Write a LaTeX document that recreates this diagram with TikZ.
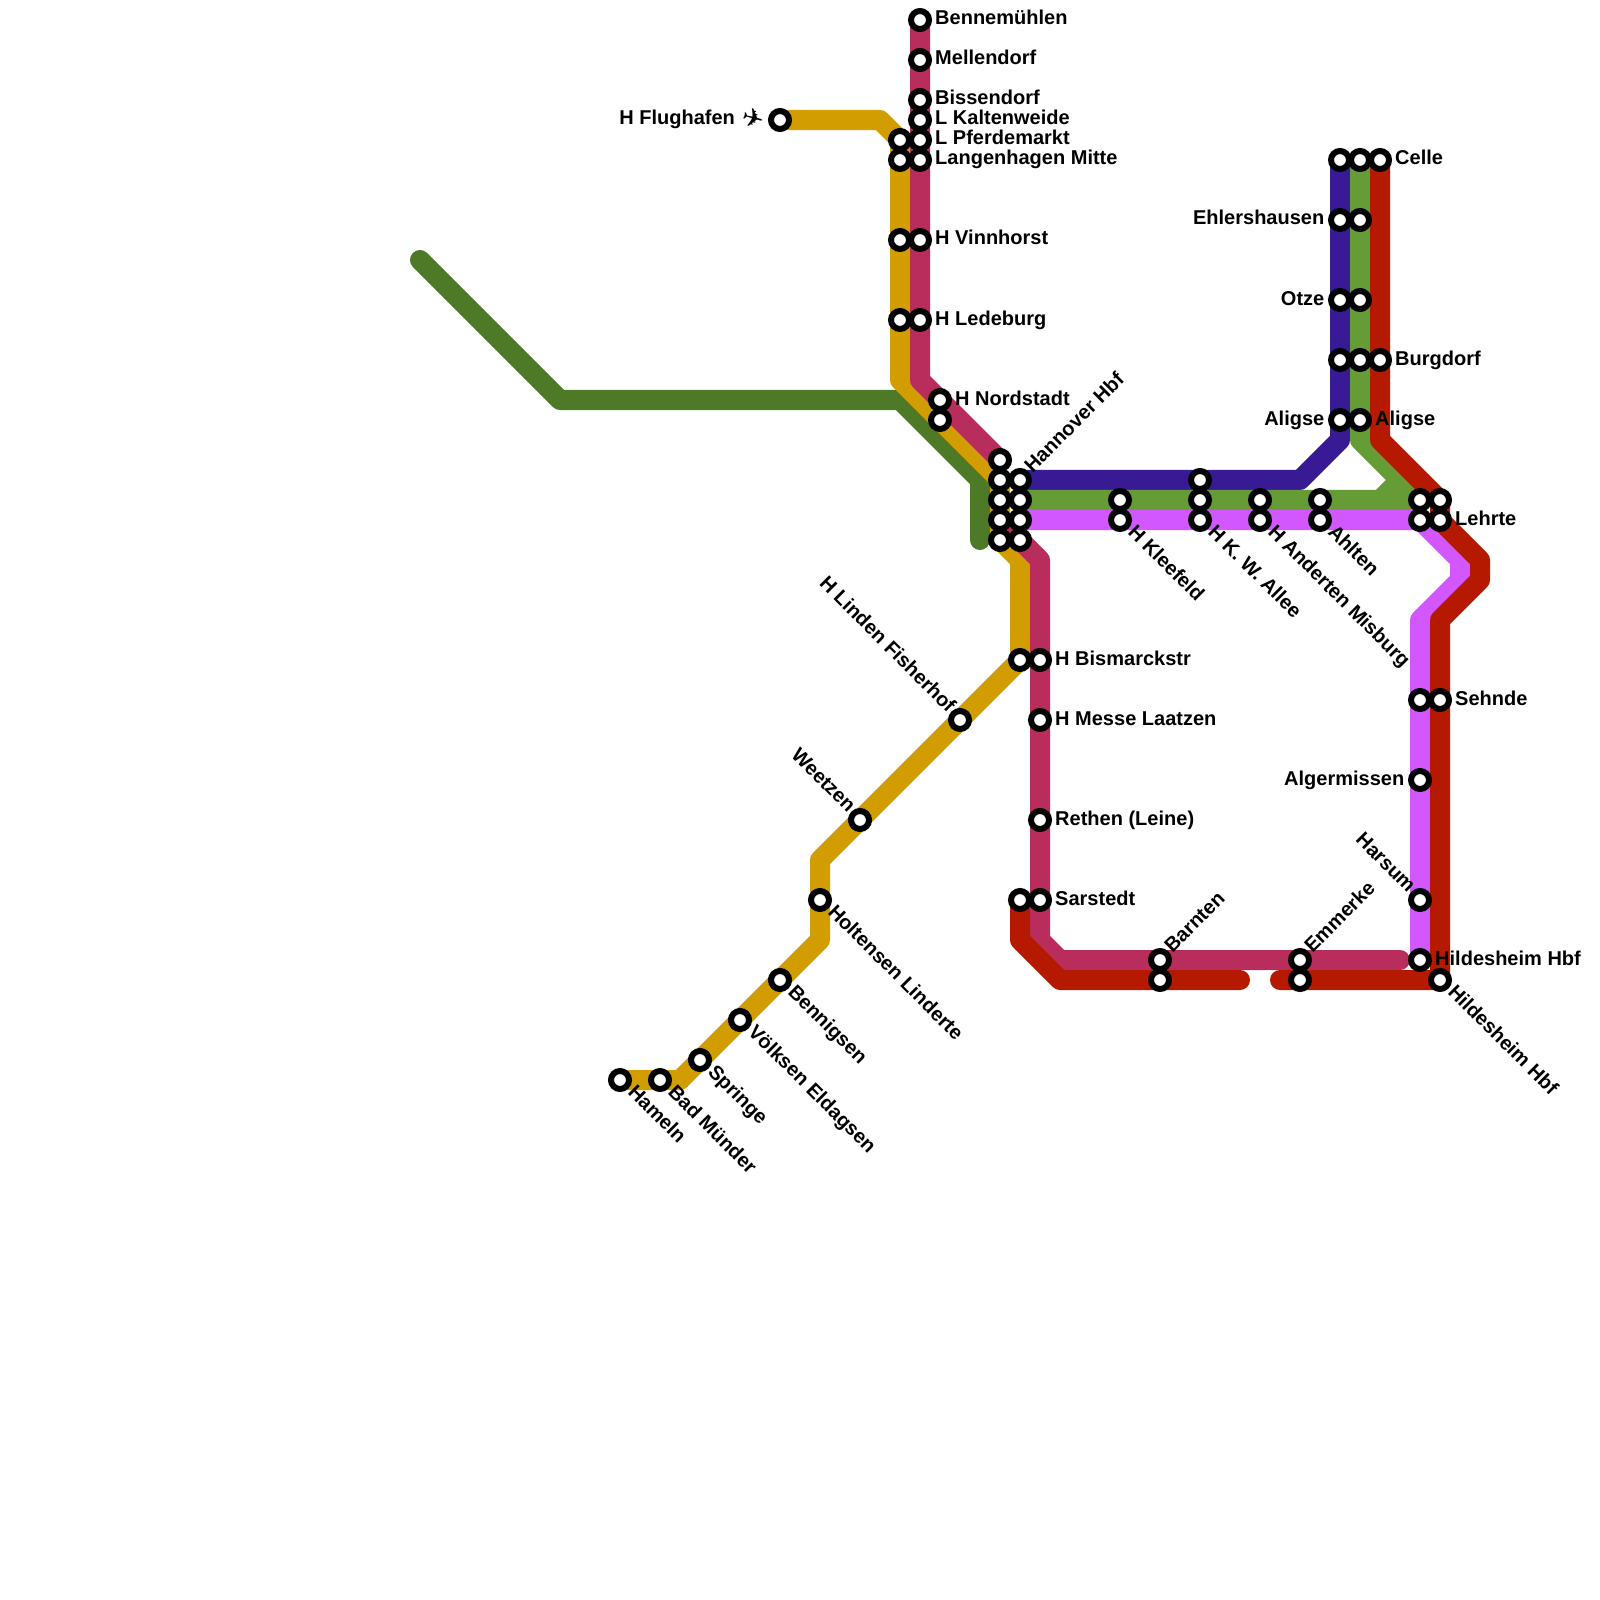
\documentclass[tikz,border=0pt]{standalone}
\usepackage{xcolor}
\usepackage{fontspec}
\setmainfont{Liberation Sans}
\newfontfamily\planefont{DejaVu Sans}
\usepackage{tikz}
\definecolor{maroonline}{HTML}{B92D5D}
\definecolor{yellowline}{HTML}{D29D00}
\definecolor{darkgreenline}{HTML}{4E7A27}
\definecolor{greenline}{HTML}{669C35}
\definecolor{blueline}{HTML}{371A94}
\definecolor{purpleline}{HTML}{D357FE}
\definecolor{redline}{HTML}{B51A00}
\tikzset{
  track/.style={line width=0.2cm, line cap=round, line join=round},
  stn/.style={circle, draw=black, fill=white, line width=0.06cm, inner sep=0pt, outer sep=0pt, minimum size=0.18cm},
  lbl/.style={font=\fontsize{5.69}{6.8}\selectfont\bfseries, inner sep=0pt, text=black},
}
\begin{document}
\begin{tikzpicture}[x=0.01cm,y=-0.01cm]
\useasboundingbox (0,0) rectangle (1600,1600);
% lines
\draw[track, darkgreenline] (420,260) -- (560,400) -- (900,400) -- (980,480) -- (980,540);
\draw[track, yellowline] (780,120) -- (880,120) -- (900,140) -- (900,380) -- (1000,480) -- (1000,540) -- (1020,560) -- (1020,660) -- (820,860) -- (820,940) -- (680,1080) -- (620,1080);
\draw[track, maroonline] (920,20) -- (920,380) -- (1000,460);
\draw[track, maroonline] (1000,520) -- (1040,560) -- (1040,940) -- (1060,960) -- (1400,960);
\draw[track, blueline] (1340,160) -- (1340,440) -- (1300,480) -- (1020,480);
\draw[track, greenline] (1360,160) -- (1360,440) -- (1420,500);
\draw[track, greenline] (1400,480) -- (1380,500) -- (1020,500);
\draw[track, greenline] (1380,500) -- (1420,500);
\draw[track, purpleline] (1020,520) -- (1420,520) -- (1460,560) -- (1460,580) -- (1420,620) -- (1420,960);
\draw[track, redline] (1380,160) -- (1380,440) -- (1440,500) -- (1440,520) -- (1480,560) -- (1480,580) -- (1440,620) -- (1440,980) -- (1280,980);
\draw[track, redline] (1020,900) -- (1020,940) -- (1060,980) -- (1240,980);
% stations without a label
\foreach \x/\y [count=\i] in {900/140,900/160,900/240,900/320,940/420,1000/460,1000/480,1000/500,1000/520,1000/540,1020/500,1020/520,1020/540,1020/660,1020/900,1120/500,1200/480,1200/500,1260/500,1320/500,1340/160,1360/160,1360/220,1360/300,1340/360,1360/360,1420/500,1420/520,1440/500,1420/700,1160/980,1300/980}
  \node[stn] (stn\i) at (\x,\y) {};
% stations, label to the right
\foreach \x/\y/\name [count=\i] in {920/20/Bennemühlen,920/60/Mellendorf,920/100/Bissendorf,920/120/L Kaltenweide,920/140/L Pferdemarkt,920/160/Langenhagen Mitte,920/240/H Vinnhorst,920/320/H Ledeburg,940/400/H Nordstadt,1040/660/H Bismarckstr,1040/720/H Messe Laatzen,1040/820/Rethen (Leine),1040/900/Sarstedt,1380/160/Celle,1380/360/Burgdorf,1360/420/Aligse,1440/520/Lehrte,1440/700/Sehnde,1420/960/Hildesheim Hbf}{
  \node[stn] (east\i) at (\x,\y) {};
  \node[lbl, anchor=base west] (eastlbl\i) at (\x+14.5,\y+5) {\name};
}
% stations, label to the left
\foreach \x/\y/\name [count=\i] in {1340/220/Ehlershausen,1340/300/Otze,1340/420/Aligse,1420/780/Algermissen,780/120/{H Flughafen {\planefont\fontsize{7.4}{7.4}\selectfont\rotatebox{-15}{✈}}\kern-0.02cm}}{
  \node[stn] (west\i) at (\x,\y) {};
  \node[lbl, anchor=base east] (westlbl\i) at (\x-15,\y+5) {\name};
}
% stations, label going down to the right
\foreach \x/\y/\name [count=\i] in {620/1080/Hameln,660/1080/Bad Münder,700/1060/Springe,740/1020/Völksen Eldagsen,780/980/Bennigsen,820/900/Holtensen Linderte,1120/520/H Kleefeld,1200/520/H K. W. Allee,1260/520/H Anderten Misburg,1320/520/Ahlten,1440/980/Hildesheim Hbf}{
  \node[stn] (down\i) at (\x,\y) {};
  \node[lbl, anchor=base west, rotate=-45] (downlbl\i) at (\x+6.5,\y+12.5) {\name};
}
% stations, label going up to the right
\foreach \x/\y/\name [count=\i] in {1020/480/Hannover Hbf,1160/960/Barnten,1300/960/Emmerke}{
  \node[stn] (up\i) at (\x,\y) {};
  \node[lbl, anchor=base west, rotate=45] (uplbl\i) at (\x+12,\y-6) {\name};
}
% stations, label coming down from the upper left
\foreach \x/\y/\name [count=\i] in {960/720/H Linden Fisherhof,860/820/Weetzen,1420/900/Harsum}{
  \node[stn] (back\i) at (\x,\y) {};
  \node[lbl, anchor=base east, rotate=-45] (backlbl\i) at (\x-12,\y-6) {\name};
}
\end{tikzpicture}
\end{document}
